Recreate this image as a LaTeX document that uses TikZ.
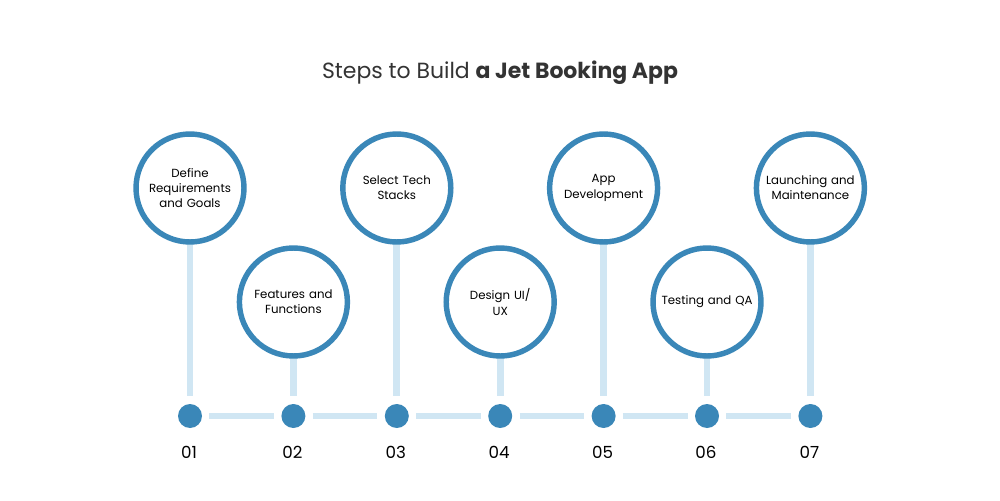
\documentclass[tikz,border=0pt]{standalone}
\usepackage{fontspec}
\setmainfont{Poppins}
\usetikzlibrary{positioning}

\definecolor{stepblue}{HTML}{3A87B8}
\definecolor{linkblue}{HTML}{D0E6F3}
\definecolor{textgray}{HTML}{333333}

\tikzset{
  stepcircle/.style={circle,draw=stepblue,line width=3.1pt,fill=white,
    minimum size=2.16cm,inner sep=0pt,align=center,text width=1.9cm,
    font=\fontsize{6.7}{8.6}\selectfont,text=black},
  stepdot/.style={circle,fill=stepblue,minimum size=0.48cm,inner sep=0pt},
  link/.style={linkblue,line width=3.8pt},
  stepnum/.style={font=\fontsize{9.5}{11}\selectfont,text=black}
}

\begin{document}
\begin{tikzpicture}[x=0.02cm,y=-0.02cm]
    % Ramme
    \useasboundingbox[fill=white] (0,0) rectangle (1000,500);
    % Titel
    \node[text=textgray,font=\fontsize{12.5}{15}\selectfont] (title) at (500,73)
      {Steps to Build \textbf{a Jet Booking App}};
    % Trin: nr / x / y for cirklen / tekst
    \foreach \i/\x/\y/\txt in {1/190/188/{Define\\Requirements\\and Goals},
                               2/293.4/302/{Features and\\Functions},
                               3/396.8/188/{Select Tech\\Stacks},
                               4/500.2/302/{Design UI/\\UX},
                               5/603.6/188/{App\\Development},
                               6/707/302/{Testing and QA},
                               7/810.4/188/{Launching and\\Maintenance}} {
      \node[stepdot] (d\i) at (\x,416) {};
      \draw[link,shorten >=0.16cm] (\x,\y) -- (d\i);
      \node[stepcircle] (c\i) at (\x,\y) {\txt};
      \node[stepnum,anchor=center] (n\i) at (\x-1,452) {0\i};
    }
    % Vandrette forbindelser
    \foreach \i [evaluate=\i as \j using int(\i+1)] in {1,...,6}
      \draw[link,shorten <=0.14cm,shorten >=0.14cm] (d\i) -- (d\j);
  \end{tikzpicture}
\end{document}
